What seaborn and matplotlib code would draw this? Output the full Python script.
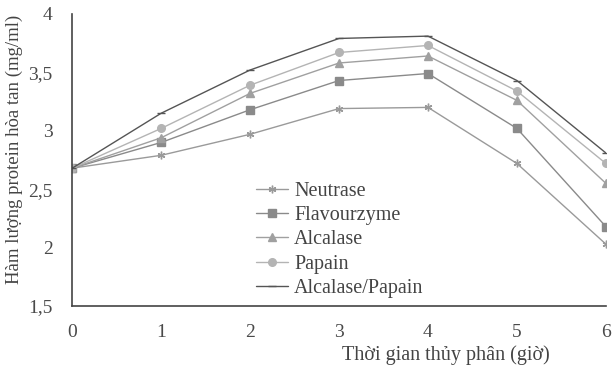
import matplotlib
matplotlib.use("Agg")
import matplotlib.pyplot as plt
import seaborn as sns
import pandas as pd

hours = [0, 1, 2, 3, 4, 5, 6]
neutrase = [2.68, 2.79, 2.97, 3.19, 3.20, 2.72, 2.03]
flavourzyme = [2.68, 2.90, 3.18, 3.43, 3.49, 3.02, 2.18]
alcalase = [2.68, 2.94, 3.32, 3.58, 3.64, 3.26, 2.55]
papain = [2.68, 3.02, 3.39, 3.67, 3.73, 3.34, 2.72]
alcalase_papain = [2.68, 3.15, 3.52, 3.79, 3.81, 3.43, 2.81]

series_names = ["Neutrase", "Flavourzyme", "Alcalase", "Papain", "Alcalase/Papain"]
series_values = [neutrase, flavourzyme, alcalase, papain, alcalase_papain]
y_ticks = [1.5, 2, 2.5, 3, 3.5, 4]
y_tick_labels = ["1,5", "2", "2,5", "3", "3,5", "4"]

sns.set_style("white")
plt.rcParams["font.family"] = ["Liberation Serif", "DejaVu Serif"]

fig = plt.figure(figsize=(6.12, 3.76), dpi=100)
ax = fig.add_axes([0.118, 0.186, 0.872, 0.777])

colors = ["#9a9a9a", "#8a8a8a", "#a0a0a0", "#b4b4b4", "#555555"]
markers = [(6, 2, 0), "s", "^", "o", "_"]

for name, vals, c, m in zip(series_names, series_values, colors, markers):
    df = pd.DataFrame({"hour": hours, "value": vals})
    sns.lineplot(data=df, x="hour", y="value", color=c, marker=m, linewidth=1.0,
                 markersize=5.5, markeredgewidth=1.0, markeredgecolor=c,
                 label=name, ax=ax)

ax.set_xlim(0, 6)
ax.set_ylim(1.5, 4)
ax.set_xticks(hours)
ax.set_xticklabels([str(h) for h in hours])
ax.set_yticks(y_ticks)
ax.set_yticklabels(y_tick_labels)
for s in ["top", "right"]:
    ax.spines[s].set_visible(False)
for s in ["left", "bottom"]:
    ax.spines[s].set_color("#444444")
    ax.spines[s].set_linewidth(1.2)
ax.tick_params(axis="both", direction="out", length=4, width=1, color="#444444",
               labelsize=14, labelcolor="#4a4a4a")
ax.tick_params(axis="y", pad=10)
ax.tick_params(axis="x", pad=9)

ax.set_ylabel("Hàm lượng protein hòa tan (mg/ml)", fontsize=13.5, color="#444444")
ax.yaxis.set_label_coords(-0.092, 0.535)
ax.set_xlabel("")
fig.text(0.728, 0.056, "Thời gian thủy phân (giờ)", fontsize=14.5, color="#444444",
         ha="center", va="center")

handles, labels = ax.get_legend_handles_labels()
leg = ax.legend(handles, labels, loc="lower left", bbox_to_anchor=(0.31, -0.035),
                frameon=False, fontsize=14.5, labelcolor="#444444",
                handlelength=1.6, handletextpad=0.3, labelspacing=0.26)

fig.savefig("out.png", dpi=100, facecolor="white")
